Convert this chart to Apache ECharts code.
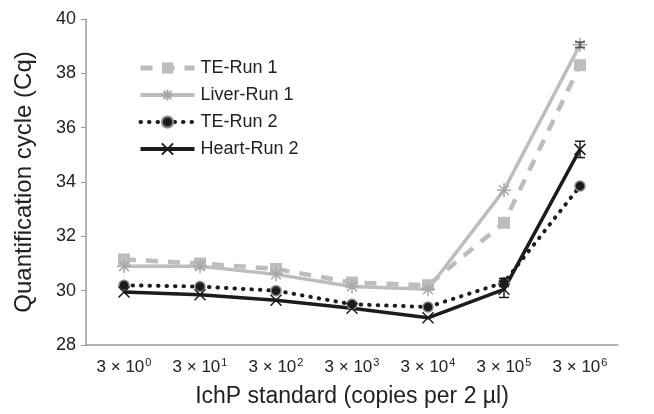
<!DOCTYPE html>
<html>
<head>
<meta charset="utf-8">
<script src="https://cdn.jsdelivr.net/npm/echarts@6/dist/echarts.min.js"></script>
<style>
  html, body { margin: 0; padding: 0; background: #fff; }
  #chart { width: 654px; height: 414px; }
</style>
</head>
<body>
<div id="chart"></div>
<script>
// categories: powers of ten for 3 x 10^n copies
const exponents = [0, 1, 2, 3, 4, 5, 6]
const teRun1 = [31.15, 31.0, 30.8, 30.3, 30.2, 32.5, 38.3]
const liverRun1 = [30.9, 30.9, 30.6, 30.15, 30.05, 33.7, 39.05]
const teRun2 = [30.2, 30.15, 30.0, 29.5, 29.4, 30.3, 33.85]
const heartRun2 = [29.95, 29.85, 29.65, 29.35, 29.0, 30.05, 35.2]
// error bars [category index, value, +/-]
const heartErr = [[5, 30.05, 0.3], [6, 35.2, 0.3]]
const liverErr = [[6, 39.05, 0.1]]
const te2Err = [[5, 30.3, 0.15]]

const categories = exponents.map(e => '{n|3 × 10}{sup|' + e + '}')

const FONT = '"Liberation Sans", Arial, sans-serif'
const GRAY = '#bdbdbd'
const BLACK = '#1c1c1c'

const asterisk = 'path://M0,5L10,5M5,0L5,10M1.5,1.5L8.5,8.5M8.5,1.5L1.5,8.5'
const cross = 'path://M0,0L10,10M10,0L0,10'

const errSeries = (data, color) => ({
	type: 'custom',
	silent: true,
	z: 5,
	data: data,
	renderItem: (params, api) => {
		const x = api.value(0)
		const top = api.coord([x, api.value(1) + api.value(2)])
		const bot = api.coord([x, api.value(1) - api.value(2)])
		const w = 5
		const style = { stroke: color, lineWidth: 1.5 }
		return {
			type: 'group',
			children: [
				{ type: 'line', shape: { x1: top[0], y1: top[1], x2: bot[0], y2: bot[1] }, style },
				{ type: 'line', shape: { x1: top[0] - w, y1: top[1], x2: top[0] + w, y2: top[1] }, style },
				{ type: 'line', shape: { x1: bot[0] - w, y1: bot[1], x2: bot[0] + w, y2: bot[1] }, style }
			]
		}
	}
})

const chart = echarts.init(document.getElementById('chart'))
chart.setOption({
	animation: false,
	textStyle: { fontFamily: FONT },
	grid: { left: 86, right: 36, top: 19, bottom: 69 },
	legend: {
		left: 133,
		top: 54,
		orient: 'vertical',
		itemWidth: 54,
		itemHeight: 14,
		itemGap: 9,
		textStyle: { fontSize: 18, color: '#222', fontFamily: FONT, padding: [0, 0, 0, 1] },
		data: [
			{ name: 'TE-Run 1', lineStyle: { width: 5 } },
			{ name: 'Liver-Run 1', lineStyle: { width: 4 } },
			{ name: 'TE-Run 2', lineStyle: { width: 4 } },
			{ name: 'Heart-Run 2', lineStyle: { width: 4 } }
		]
	},
	xAxis: {
		type: 'category',
		data: categories,
		name: 'IchP standard (copies per 2 µl)',
		nameLocation: 'middle',
		nameGap: 40,
		nameTextStyle: { fontSize: 23, color: '#222', fontFamily: FONT },
		axisLine: { lineStyle: { color: '#9a9a9a', width: 1.5 } },
		axisTick: { lineStyle: { color: '#9a9a9a' }, length: 5 },
		axisLabel: {
			interval: 0,
			color: '#222',
			margin: 12,
			rich: {
				n: { fontSize: 17, color: '#222', fontFamily: FONT },
				sup: { fontSize: 11, verticalAlign: 'top', padding: [0, 0, 10, 1], color: '#222', fontFamily: FONT }
			}
		}
	},
	yAxis: {
		type: 'value',
		min: 28,
		max: 40,
		interval: 2,
		name: 'Quantification cycle (Cq)',
		nameLocation: 'middle',
		nameGap: 50,
		nameTextStyle: { fontSize: 24, color: '#222', fontFamily: FONT, padding: [0, 0, 0, 0] },
		splitLine: { show: false },
		axisLine: { show: true, lineStyle: { color: '#9a9a9a', width: 1.5 } },
		axisTick: { show: true, lineStyle: { color: '#9a9a9a' }, length: 5 },
		axisLabel: { color: '#222', fontSize: 18, fontFamily: FONT, margin: 10 }
	},
	series: [
		{
			name: 'TE-Run 1',
			type: 'line',
			data: teRun1,
			symbol: 'rect',
			symbolSize: 12,
			lineStyle: { color: GRAY, width: 4.5, type: [12, 10] },
			itemStyle: { color: GRAY, opacity: 1 },
			z: 2
		},
		{
			name: 'Liver-Run 1',
			type: 'line',
			data: liverRun1,
			symbol: asterisk,
			symbolSize: 14,
			lineStyle: { color: GRAY, width: 3.5 },
			itemStyle: { color: 'none', borderColor: '#a8a8a8', borderWidth: 1.5 },
			z: 3
		},
		{
			name: 'TE-Run 2',
			type: 'line',
			data: teRun2,
			symbol: 'circle',
			symbolSize: 10,
			lineStyle: { color: BLACK, width: 4, type: [0.5, 8], cap: 'round' },
			itemStyle: { color: BLACK, borderColor: '#888', borderWidth: 1.5 },
			z: 4
		},
		{
			name: 'Heart-Run 2',
			type: 'line',
			data: heartRun2,
			symbol: cross,
			symbolSize: 11,
			lineStyle: { color: BLACK, width: 3.5 },
			itemStyle: { color: 'none', borderColor: BLACK, borderWidth: 1.5 },
			z: 4
		},
		errSeries(heartErr, BLACK),
		errSeries(te2Err, BLACK),
		errSeries(liverErr, '#555')
	]
})
</script>
</body>
</html>
